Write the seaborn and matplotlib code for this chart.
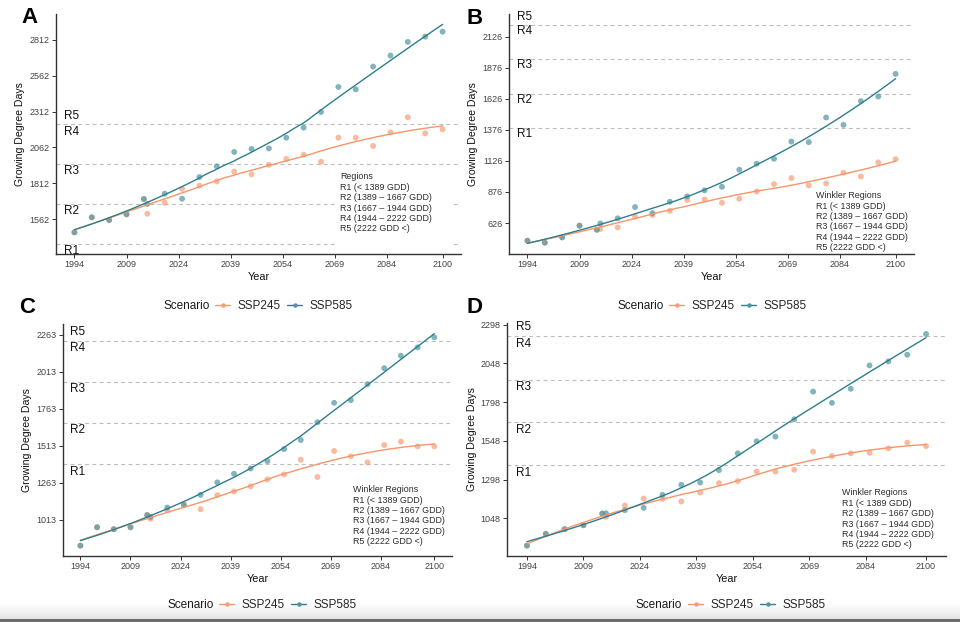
import numpy as np
import pandas as pd
import matplotlib
matplotlib.use('Agg')
import matplotlib.pyplot as plt
from matplotlib.lines import Line2D
from matplotlib.patches import Rectangle
import seaborn as sns

# years: shared historical points, then the two projections
hist_years = [1994, 1999, 2004, 2009, 2014]
proj_years = [2015, 2020, 2025, 2030, 2035, 2040, 2045, 2050, 2055, 2060,
              2065, 2070, 2075, 2080, 2085, 2090, 2095, 2100]

# panel A
a_hist = [1469, 1574, 1555, 1595, 1702]
a_ssp245 = [1599, 1676, 1772, 1795, 1825, 1893, 1874, 1941, 1981, 2011,
            1962, 2130, 2130, 2072, 2167, 2272, 2160, 2188]
a_ssp585 = [1667, 1739, 1704, 1855, 1930, 2030, 2051, 2055, 2130, 2200,
            2309, 2484, 2467, 2626, 2703, 2798, 2835, 2870]
a_yticks = [1562, 1812, 2062, 2312, 2562, 2812]

# panel B
b_hist = [484, 468, 511, 605, 572]
b_ssp245 = [578, 591, 677, 690, 725, 811, 816, 789, 822, 880,
            939, 988, 929, 945, 1031, 1001, 1114, 1140]
b_ssp585 = [623, 664, 755, 706, 797, 840, 889, 918, 1055, 1103,
            1143, 1282, 1277, 1475, 1416, 1607, 1644, 1826]
b_yticks = [626, 876, 1126, 1376, 1626, 1876, 2126]

# panel C
c_hist = [839, 963, 950, 963, 1045]
c_ssp245 = [1020, 1078, 1121, 1085, 1180, 1205, 1239, 1286, 1320, 1419,
            1302, 1478, 1442, 1401, 1518, 1541, 1509, 1509]
c_ssp585 = [1033, 1096, 1112, 1182, 1266, 1324, 1360, 1410, 1491, 1552,
            1672, 1803, 1821, 1929, 2037, 2121, 2177, 2245]
c_yticks = [1013, 1263, 1513, 1763, 2013, 2263]

# panel D
d_hist = [871, 947, 977, 1003, 1078]
d_ssp245 = [1057, 1130, 1175, 1173, 1156, 1214, 1275, 1288, 1350, 1350,
            1361, 1478, 1450, 1467, 1471, 1499, 1536, 1514]
d_ssp585 = [1080, 1100, 1115, 1199, 1264, 1279, 1359, 1467, 1545, 1575,
            1687, 1866, 1793, 1884, 2035, 2061, 2104, 2238]
d_yticks = [1048, 1298, 1548, 1798, 2048, 2298]

x_ticks = [1994, 2009, 2024, 2039, 2054, 2069, 2084, 2100]
thresholds = [1389, 1667, 1944, 2222]
region_names = ['R1', 'R2', 'R3', 'R4', 'R5']
region_lines = ['R1 (< 1389 GDD)', 'R2 (1389 \u2013 1667 GDD)',
                'R3 (1667 \u2013 1944 GDD)', 'R4 (1944 \u2013 2222 GDD)',
                'R5 (2222 GDD <)']
scenarios = ['SSP245', 'SSP585']

pt_colors = {'SSP245': '#F79E78', 'SSP585': '#4E95A1'}
line_colors = {'SSP245': '#F8956A', 'SSP585': '#2E7F8D'}

W, H = 960, 622


def loess(x, y, grid, span=0.75):
    # same idea as ggplot's geom_smooth default (local quadratic, tricube)
    x = np.asarray(x, float)
    y = np.asarray(y, float)
    q = int(np.floor(len(x) * span))
    out = []
    for g in grid:
        d = np.abs(x - g)
        h = np.sort(d)[q - 1]
        w = np.clip(1 - (d / h) ** 3, 0, None) ** 3
        coef = np.polyfit(x - g, y, 2, w=np.sqrt(w))
        out.append(coef[-1])
    return np.array(out)


def draw_panel(ax, hist, s245, s585, yticks, ylim, title, txt_xy, box=None):
    rows = []
    for name, vals in zip(scenarios, [s245, s585]):
        for yr, v in zip(hist_years + proj_years, hist + vals):
            rows.append({'Year': yr, 'GDD': v, 'Scenario': name})
    df = pd.DataFrame(rows)

    grid = np.linspace(min(hist_years), max(proj_years), 80)
    fits = []
    for name in scenarios:
        sub = df[df['Scenario'] == name]
        fits.append(pd.DataFrame({'Year': grid,
                                  'GDD': loess(sub['Year'], sub['GDD'], grid),
                                  'Scenario': name}))
    fit = pd.concat(fits)

    for t in thresholds:
        ax.axhline(t, color='#BDBDBD', lw=0.8, ls=(0, (3.5, 3)), zorder=1)
    if box is not None:
        ax.add_patch(Rectangle(box[:2], box[2], box[3], transform=ax.transAxes,
                               facecolor='white', edgecolor='none', zorder=1.5))

    sns.scatterplot(data=df, x='Year', y='GDD', hue='Scenario', palette=pt_colors,
                    alpha=0.7, s=18, edgecolor='none', legend=False, ax=ax, zorder=2)
    sns.lineplot(data=fit, x='Year', y='GDD', hue='Scenario', palette=line_colors,
                 lw=1.0, legend=False, ax=ax, zorder=2.5)

    for i, name in enumerate(region_names):
        yv = thresholds[i] - 50 if i < 4 else thresholds[3] + 62
        ax.text(1991, yv, name, fontsize=8.5, ha='left', va='center', color='#111111',
                zorder=3, clip_on=False)

    ax.text(txt_xy[0], txt_xy[1], '\n'.join([title] + region_lines),
            transform=ax.transAxes, fontsize=6.4, ha='left', va='top',
            color='#2b2b2b', linespacing=1.2, zorder=3)

    ax.set_xlim(1988.7, 2105.3)
    ax.set_ylim(*ylim)
    ax.set_xticks(x_ticks)
    ax.set_yticks(yticks)
    ax.set_xlabel('Year', fontsize=7.8, labelpad=2, color='#111111')
    ax.set_ylabel('Growing Degree Days', fontsize=7.6, labelpad=3, color='#111111')
    ax.tick_params(axis='both', length=3, width=0.7, pad=1.5, labelsize=6.5,
                   colors='#333333', labelcolor='#444444')
    for side in ['top', 'right']:
        ax.spines[side].set_visible(False)
    for side in ['left', 'bottom']:
        ax.spines[side].set_color('#333333')
        ax.spines[side].set_linewidth(1.0)


def scenario_legend(fig, x_px, y_px):
    fig.text(x_px / W, 1 - y_px / H, 'Scenario', fontsize=8.5, ha='left',
             va='center', color='#1a1a1a')
    handles = [Line2D([], [], color=line_colors[s], lw=1.0, marker='o',
                      markersize=3.2, markeredgewidth=0,
                      markerfacecolor=pt_colors[s]) for s in scenarios]
    fig.legend(handles, scenarios, loc='center left',
               bbox_to_anchor=((x_px + 52) / W, 1 - y_px / H), ncol=2,
               frameon=False, fontsize=8.5, handlelength=1.3, handletextpad=0.6,
               columnspacing=0.55, borderpad=0, borderaxespad=0)


sns.set_style('ticks')
plt.rcParams['font.family'] = ['Liberation Sans', 'DejaVu Sans']

fig = plt.figure(figsize=(9.6, 6.22), dpi=100)


def px_axes(l, r, t, b):
    return fig.add_axes([l / W, 1 - b / H, (r - l) / W, (b - t) / H])


axA = px_axes(56, 461, 14, 254)
axB = px_axes(509, 914, 14, 254)
axC = px_axes(62.7, 452, 324, 556)
axD = px_axes(507, 946, 323, 556)

draw_panel(axA, a_hist, a_ssp245, a_ssp585, a_yticks, (1318, 2993), 'Regions',
           (0.701, 0.34), box=(0.696, 0.015, 0.285, 0.343))
draw_panel(axB, b_hist, b_ssp245, b_ssp585, b_yticks, (377, 2308), 'Winkler Regions',
           (0.758, 0.262))
draw_panel(axC, c_hist, c_ssp245, c_ssp585, c_yticks, (769, 2335), 'Winkler Regions',
           (0.746, 0.305))
draw_panel(axD, d_hist, d_ssp245, d_ssp585, d_yticks, (804, 2309), 'Winkler Regions',
           (0.763, 0.29))

for letter, (x, y) in zip('ABCD', [(21, 7), (467, 8), (19, 297), (467, 297)]):
    fig.text(x / W, 1 - y / H, letter, fontsize=16, weight='bold', ha='left',
             va='top', color='black')

scenario_legend(fig, 163, 306)
scenario_legend(fig, 617, 306)
scenario_legend(fig, 167, 605)
scenario_legend(fig, 636, 605)

# soft grey band along the bottom edge of the screenshot
sh = fig.add_axes([0, 3 / H, 1, 16 / H])
sh.axis('off')
sh.imshow(np.linspace(0, 1, 40)[:, None], aspect='auto', cmap='Greys',
          vmin=0, vmax=5, extent=(0, 1, 0, 1))
fig.patches.append(Rectangle((0, 0), 1, 3 / H, transform=fig.transFigure,
                             facecolor='#6a6a6a', edgecolor='none'))

fig.savefig('out.png', dpi=100)
